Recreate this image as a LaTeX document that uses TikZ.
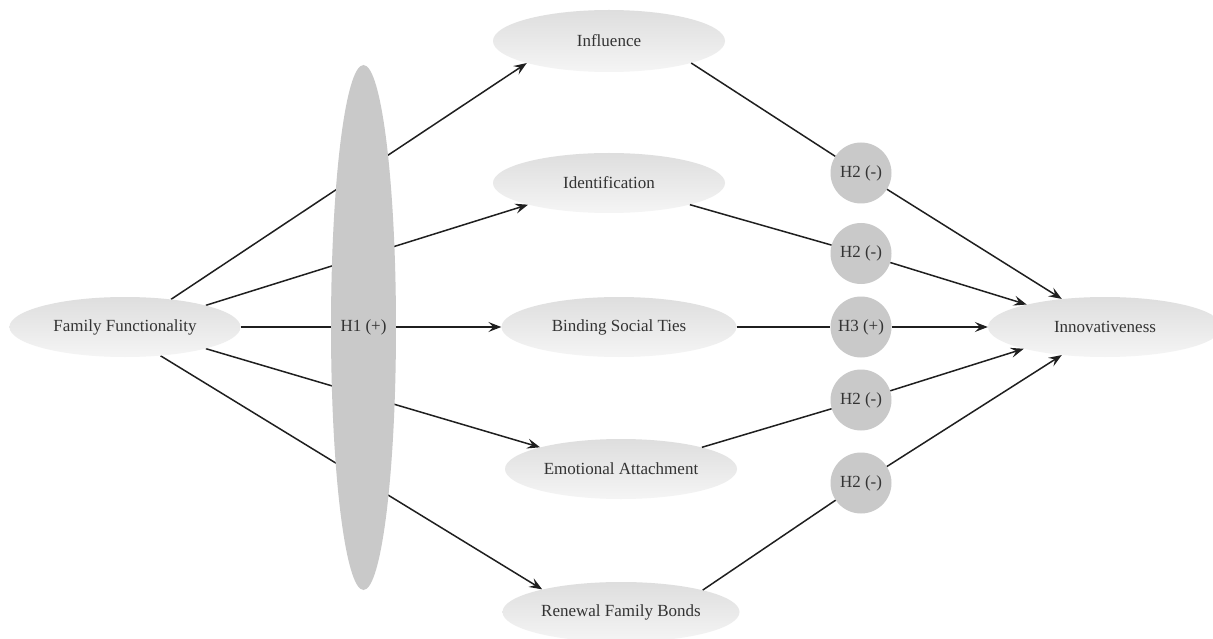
\documentclass[tikz,border=0pt]{standalone}
\usepackage{fontspec}
\setmainfont{Liberation Serif}
\usetikzlibrary{shapes.geometric,arrows.meta,backgrounds}
\begin{document}
\begin{tikzpicture}[x=1pt,y=-1pt,
  font=\fontsize{17}{20}\selectfont,
  construct/.style={ellipse, inner sep=0pt, text=black!80,
     top color=black!13, bottom color=black!4, draw=none},
  hyp/.style={circle, inner sep=0pt, minimum size=61pt, fill=black!21, text=black!80},
  link/.style={line width=1.5pt, draw=black!88},
  arr/.style={link, -{Stealth[length=13pt,width=10pt,inset=5pt]}}]
\useasboundingbox (0,0) rectangle (1213,639);

\node[construct, minimum width=231pt, minimum height=60pt] (ff) at (125,327) {Family Functionality};
\node[ellipse, inner sep=0pt, fill=black!21, text=black!80, minimum width=61pt, minimum height=525pt] (h1) at (363.5,327.5) {H1 (+)};

\node[construct, minimum width=232pt, minimum height=62pt] (inf) at (609,41) {Influence};
\node[construct, minimum width=232pt, minimum height=60pt] (ide) at (609,183) {Identification};
\node[construct, minimum width=235pt, minimum height=60pt] (bst) at (619,327) {Binding Social Ties};
\node[construct, minimum width=232pt, minimum height=60pt] (ema) at (621,469) {Emotional Attachment};
\node[construct, minimum width=237pt, minimum height=60pt] (rfb) at (621,612) {Renewal Family Bonds};

\node[hyp] (ha) at (861,173) {H2 (-)};
\node[hyp] (hb) at (861,253.5) {H2 (-)};
\node[hyp] (hc) at (861,327) {H3 (+)};
\node[hyp] (hd) at (861,400) {H2 (-)};
\node[hyp] (he) at (861,483) {H2 (-)};

\node[construct, minimum width=234pt, minimum height=60pt] (inn) at (1105,327) {Innovativeness};

\begin{scope}[on background layer]
\fill[white] (0,0) rectangle (1213,639);
\draw[arr] (ff.31) -- (inf.195);
\draw[arr] (ff.15) -- (ide.195);
\draw[arr] (ff.east) -- (bst.west);
\draw[arr] (ff.-15) -- (ema.165);
\draw[arr] (ff.-39) -- (rfb.164);
\end{scope}

\draw[link] (inf.-15) -- (ha);
\draw[link] (ide.-15) -- (hb);
\draw[link] (bst.east) -- (hc);
\draw[link] (ema.15) -- (hd);
\draw[link] (rfb.15) -- (he);

\draw[arr] (ha) -- (inn.147);
\draw[arr] (hb) -- (inn.164.5);
\draw[arr] (hc) -- (inn.west);
\draw[arr] (hd) -- (inn.195);
\draw[arr] (he) -- (inn.213);
\end{tikzpicture}
\end{document}
